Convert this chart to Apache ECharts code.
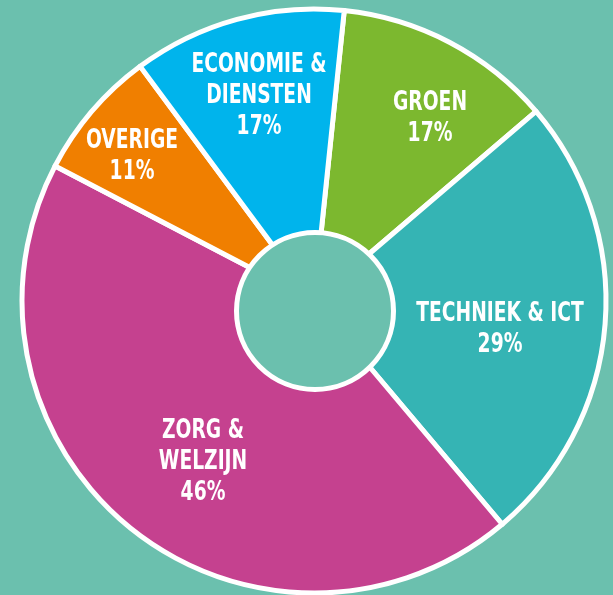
<!DOCTYPE html>
<html>
<head>
<meta charset="utf-8">
<style>
html,body{margin:0;padding:0;background:#6bc0ae;}
#chart{width:613px;height:595px;}
</style>
<script src="https://cdn.jsdelivr.net/npm/echarts@6/dist/echarts.min.js"></script>
</head>
<body>
<div id="chart"></div>
<script>
// Sector names (clockwise from the top)
var categories = ['GROEN', 'TECHNIEK & ICT', 'ZORG &\nWELZIJN', 'OVERIGE', 'ECONOMIE &\nDIENSTEN'];
// Visual share of each slice
var shares = [12.1, 25.1, 43.8, 7.2, 11.8];
// Percent labels printed on the chart
var percentLabels = ['17%', '29%', '46%', '11%', '17%'];

var colors = ['#7cb82f', '#35b4b4', '#c5418f', '#f07f00', '#00b4ec'];
var bg = '#6bc0ae';
// label block centres (layout only)
var labelPos = [[430, 118], [500, 329], [203, 462], [132, 156], [259, 96]];

var labelFont = '"DejaVu Sans Condensed", "Liberation Sans Narrow", sans-serif';

var graphics = [{
  type: 'circle',
  z: 100,
  shape: { cx: 315, cy: 311, r: 78.5 },
  style: { fill: bg, stroke: '#ffffff', lineWidth: 5 }
}];
categories.forEach(function (c, i) {
  graphics.push({
    type: 'text',
    z: 110,
    x: labelPos[i][0],
    y: labelPos[i][1],
    scaleX: 0.77,
    style: {
      text: c + '\n' + percentLabels[i],
      fill: '#ffffff',
      fontFamily: labelFont,
      fontWeight: 'bold',
      fontSize: 27,
      lineHeight: 31,
      align: 'center',
      verticalAlign: 'middle'
    }
  });
});

var chart = echarts.init(document.getElementById('chart'));
chart.setOption({
  backgroundColor: bg,
  animation: false,
  series: [{
    type: 'pie',
    center: [314, 301],
    radius: [0, 292],
    startAngle: 84.05,
    clockwise: true,
    avoidLabelOverlap: false,
    silent: true,
    itemStyle: { borderColor: '#ffffff', borderWidth: 5 },
    label: { show: false },
    labelLine: { show: false },
    data: categories.map(function (c, i) {
      return { name: c, value: shares[i], itemStyle: { color: colors[i] } };
    })
  }],
  graphic: graphics
});
</script>
</body>
</html>
